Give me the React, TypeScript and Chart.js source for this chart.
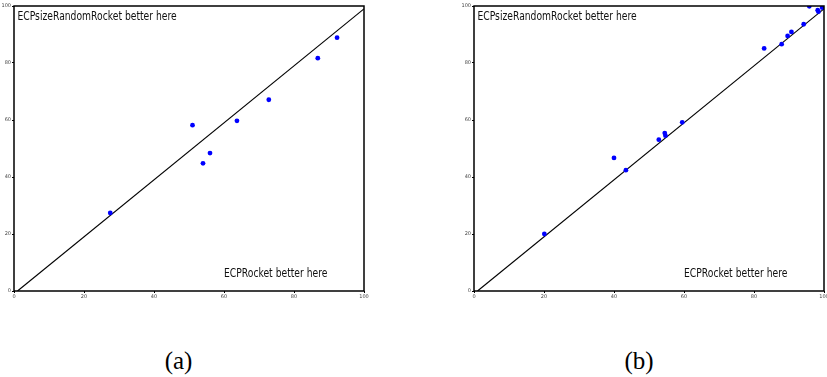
import React, { useEffect, useRef } from "react";
import { Chart, registerables } from "chart.js";

Chart.register(...registerables);

// Panel (a): ECPRocket accuracy (x) vs ECPsizeRandomRocket accuracy (y)
const xA = [27.5, 51.0, 54.0, 56.0, 63.7, 72.8, 86.8, 92.3];
const yA = [27.4, 58.2, 44.8, 48.4, 59.7, 67.1, 81.7, 88.9];

// Panel (b)
const xB = [20.1, 40.0, 43.4, 52.8, 54.5, 54.7, 59.5, 82.9, 87.9, 89.6, 90.7, 94.2, 95.8, 98.2, 98.4, 99.5, 99.8];
const yB = [20.0, 46.7, 42.4, 53.1, 55.4, 54.5, 59.2, 85.1, 86.6, 89.5, 90.9, 93.6, 99.9, 98.5, 98.0, 99.4, 99.8];

// Reference diagonal
const diagX = [1, 100];
const diagY = [0, 99];

const tickValues = [0, 20, 40, 60, 80, 100];

const labelTop = "ECPsizeRandomRocket better here";
const labelBottom = "ECPRocket better here";
const labelTopPos = [1, 95];
const labelBottomPos = [60, 5];

const captions = ["(a)", "(b)"];

const framePlugin = {
  id: "frameAndText",
  afterDatasetsDraw(chart: any) {
    const { ctx, chartArea, scales } = chart;
    ctx.save();
    ctx.strokeStyle = "#000";
    ctx.lineWidth = 1.5;
    ctx.strokeRect(chartArea.left, chartArea.top, chartArea.right - chartArea.left, chartArea.bottom - chartArea.top);
    ctx.fillStyle = "#111";
    ctx.font = "11.5px 'DejaVu Sans'";
    ctx.textBaseline = "alphabetic";
    ctx.textAlign = "left";
    const drawText = (t: string, pos: number[]) => {
      const px = scales.x.getPixelForValue(pos[0]);
      const py = scales.y.getPixelForValue(pos[1]);
      ctx.save();
      ctx.translate(px, py);
      ctx.scale(0.8, 1);
      ctx.fillText(t, 0, 0);
      ctx.restore();
    };
    drawText(labelTop, labelTopPos);
    drawText(labelBottom, labelBottomPos);
    ctx.restore();
  },
};

function Panel({ xs, ys, left }: { xs: number[]; ys: number[]; left: number }) {
  const ref = useRef<HTMLCanvasElement | null>(null);
  useEffect(() => {
    if (!ref.current) return;
    const axisCommon = {
      type: "linear" as const,
      min: 0,
      max: 100,
      afterBuildTicks: (axis: any) => {
        axis.ticks = tickValues.map((v) => ({ value: v }));
      },
      grid: {
        display: true,
        drawOnChartArea: false,
        drawTicks: true,
        tickLength: 2,
        color: "#000",
        lineWidth: 1,
      },
      border: { display: false },
      ticks: {
        font: { family: "'DejaVu Sans'", size: 5 },
        color: "#444",
        padding: 1,
        maxRotation: 0,
        autoSkip: false,
      },
    };
    const chart = new Chart(ref.current, {
      type: "scatter",
      data: {
        datasets: [
          {
            type: "line",
            data: diagX.map((x, i) => ({ x, y: diagY[i] })),
            borderColor: "#000",
            borderWidth: 1.2,
            pointRadius: 0,
            fill: false,
            order: 2,
          } as any,
          {
            data: xs.map((x, i) => ({ x, y: ys[i] })),
            backgroundColor: "#0000ff",
            borderColor: "#0000ff",
            pointRadius: 2.4,
            borderWidth: 0,
            order: 1,
          },
        ],
      },
      options: {
        responsive: false,
        animation: false,
        events: [],
        layout: { padding: { top: 6, right: 6, left: 0, bottom: 0 } },
        plugins: { legend: { display: false }, tooltip: { enabled: false } },
        scales: {
          x: {
            ...axisCommon,
            afterFit: (s: any) => {
              s.height = 14;
            },
          },
          y: {
            ...axisCommon,
            afterFit: (s: any) => {
              s.width = 14;
            },
          },
        },
      },
      plugins: [framePlugin],
    });
    return () => chart.destroy();
  }, [xs, ys]);
  return (
    <canvas
      ref={ref}
      width={370}
      height={305}
      style={{ position: "absolute", left, top: 0, width: 370, height: 305 }}
    />
  );
}

export default function App() {
  return (
    <div style={{ position: "absolute", left: 0, top: 0, width: 827, height: 377, background: "#fff" }}>
      <Panel xs={xA} ys={yA} left={0} />
      <Panel xs={xB} ys={yB} left={460} />
      {captions.map((c, i) => (
        <div
          key={c}
          style={{
            position: "absolute",
            left: i === 0 ? 128.5 : 589,
            width: 100,
            top: 346,
            textAlign: "center",
            fontFamily: "'Liberation Serif', serif",
            fontSize: 25,
            lineHeight: "30px",
            color: "#000",
          }}
        >
          {c}
        </div>
      ))}
    </div>
  );
}
